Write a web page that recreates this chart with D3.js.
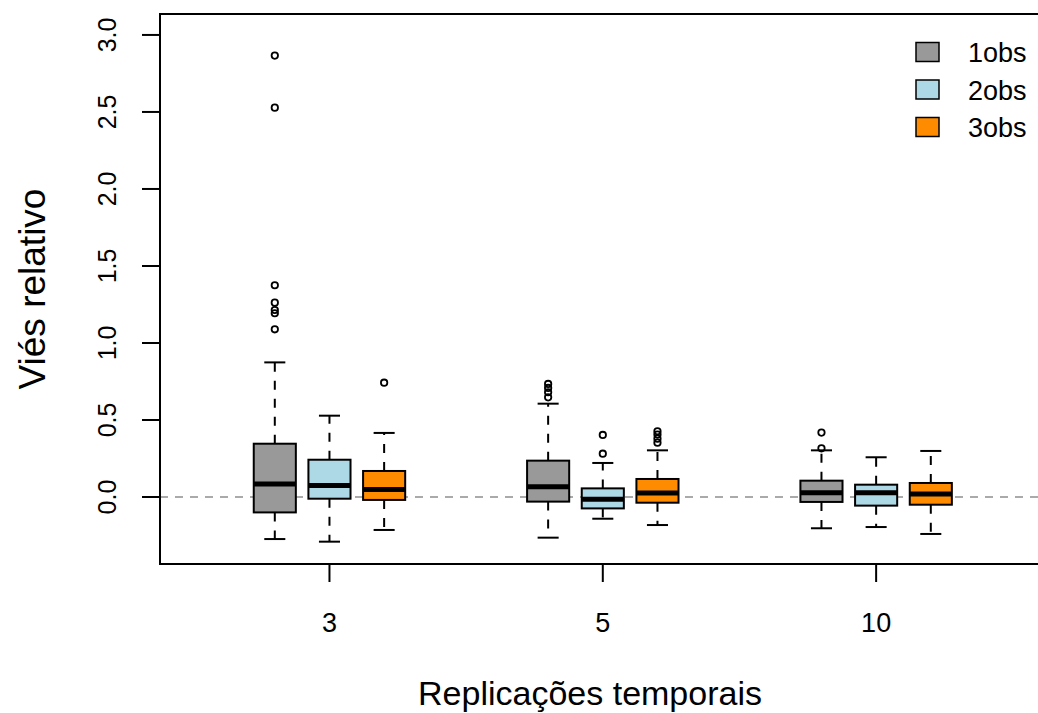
<!DOCTYPE html>
<html>
<head>
<meta charset="utf-8">
<script src="https://cdn.jsdelivr.net/npm/d3@7"></script>
<style>
body { margin: 0; background: #fff; }
text { font-family: "Liberation Sans", Arial, sans-serif; fill: #000; }
</style>
</head>
<body>
<script>
// groups on the x axis and the three series
var groups = ["3", "5", "10"];
var seriesNames = ["1obs", "2obs", "3obs"];
var yTicks = [0, 0.5, 1, 1.5, 2, 2.5, 3];

// box statistics, one row per series, one value per group
var whiskerLow  = [[-0.273, -0.264, -0.203], [-0.290, -0.141, -0.195], [-0.214, -0.182, -0.240]];
var q1          = [[-0.100, -0.030, -0.032], [-0.011, -0.074, -0.056], [-0.019, -0.037, -0.050]];
var medians     = [[ 0.084,  0.067,  0.028], [ 0.074, -0.015,  0.028], [ 0.048,  0.026,  0.019]];
var q3          = [[ 0.346,  0.236,  0.106], [ 0.242,  0.056,  0.080], [ 0.169,  0.117,  0.091]];
var whiskerHigh = [[ 0.874,  0.606,  0.303], [ 0.528,  0.221,  0.258], [ 0.416,  0.303,  0.299]];
var outliers = [
  [[2.866, 2.528, 1.375, 1.262, 1.214, 1.193, 1.089], [0.734, 0.708, 0.680, 0.647], [0.418, 0.316]],
  [[], [0.403, 0.281], []],
  [[0.742], [0.427, 0.405, 0.379, 0.353], []]
];

var fills = ["#999999", "#add8e6", "#ff8c00"];

var W = 1038, H = 713;
// plot region (note: "top" is reserved on window)
var pLeft = 160, pTop = 14, pBottom = 564, pRight = 1062;

var svg = d3.select("body").append("svg")
  .attr("width", W)
  .attr("height", H);

// x in "box slot" units, y in data units
var x = d3.scaleLinear().domain([-1.1, 15.4]).range([pLeft, pRight]);
var y = d3.scaleLinear().domain([-0.435, 3.136]).range([pBottom, pTop]);
var boxW = x(0.77) - x(0);

function slot(g, s) { return g * 5 + s + 1; }

// zero reference line
svg.append("line")
  .attr("x1", pLeft).attr("x2", pRight)
  .attr("y1", y(0)).attr("y2", y(0))
  .attr("stroke", "#aaaaaa")
  .attr("stroke-width", 2)
  .attr("stroke-dasharray", "8,7");

var boxes = [];
for (var s = 0; s < seriesNames.length; s++) {
  for (var g = 0; g < groups.length; g++) {
    boxes.push({s: s, g: g, cx: x(slot(g, s)),
      lo: whiskerLow[s][g], q1: q1[s][g], med: medians[s][g], q3: q3[s][g], hi: whiskerHigh[s][g],
      out: outliers[s][g]});
  }
}

var bx = svg.selectAll("g.box").data(boxes).enter().append("g").attr("class", "box");

// whiskers
bx.append("line")
  .attr("x1", function(d) { return d.cx; }).attr("x2", function(d) { return d.cx; })
  .attr("y1", function(d) { return y(d.q3); }).attr("y2", function(d) { return y(d.hi); })
  .attr("stroke", "#000").attr("stroke-width", 2).attr("stroke-dasharray", "9,9");
bx.append("line")
  .attr("x1", function(d) { return d.cx; }).attr("x2", function(d) { return d.cx; })
  .attr("y1", function(d) { return y(d.q1); }).attr("y2", function(d) { return y(d.lo); })
  .attr("stroke", "#000").attr("stroke-width", 2).attr("stroke-dasharray", "9,9");
// caps
["hi", "lo"].forEach(function(k) {
  bx.append("line")
    .attr("x1", function(d) { return d.cx - boxW / 4; }).attr("x2", function(d) { return d.cx + boxW / 4; })
    .attr("y1", function(d) { return y(d[k]); }).attr("y2", function(d) { return y(d[k]); })
    .attr("stroke", "#000").attr("stroke-width", 2);
});

bx.append("rect")
  .attr("x", function(d) { return d.cx - boxW / 2; })
  .attr("width", boxW)
  .attr("y", function(d) { return y(d.q3); })
  .attr("height", function(d) { return y(d.q1) - y(d.q3); })
  .attr("fill", function(d) { return fills[d.s]; })
  .attr("stroke", "#000").attr("stroke-width", 2);

bx.append("line")
  .attr("x1", function(d) { return d.cx - boxW / 2; }).attr("x2", function(d) { return d.cx + boxW / 2; })
  .attr("y1", function(d) { return y(d.med); }).attr("y2", function(d) { return y(d.med); })
  .attr("stroke", "#000").attr("stroke-width", 5);

bx.selectAll("circle").data(function(d) { return d.out.map(function(v) { return {cx: d.cx, v: v}; }); })
  .enter().append("circle")
  .attr("cx", function(d) { return d.cx; })
  .attr("cy", function(d) { return y(d.v); })
  .attr("r", 3.2)
  .attr("fill", "none").attr("stroke", "#000").attr("stroke-width", 1.8);

// frame
svg.append("rect")
  .attr("x", pLeft).attr("y", pTop)
  .attr("width", pRight - pLeft).attr("height", pBottom - pTop)
  .attr("fill", "none").attr("stroke", "#000").attr("stroke-width", 2);

// y axis
var yAxis = svg.append("g");
yAxis.append("line").attr("x1", pLeft).attr("x2", pLeft)
  .attr("y1", y(0)).attr("y2", y(3)).attr("stroke", "#000").attr("stroke-width", 2);
yAxis.selectAll("line.tick").data(yTicks).enter().append("line")
  .attr("class", "tick")
  .attr("x1", pLeft).attr("x2", pLeft - 18)
  .attr("y1", function(d) { return y(d); }).attr("y2", function(d) { return y(d); })
  .attr("stroke", "#000").attr("stroke-width", 2);
yAxis.selectAll("text").data(yTicks).enter().append("text")
  .attr("transform", function(d) { return "translate(116," + y(d) + ") rotate(-90)"; })
  .attr("text-anchor", "middle")
  .attr("font-size", 25)
  .text(function(d) { return d3.format(".1f")(d); });

// x axis
var xAxis = svg.append("g");
xAxis.selectAll("line").data(groups).enter().append("line")
  .attr("x1", function(d, i) { return x(slot(i, 1)); }).attr("x2", function(d, i) { return x(slot(i, 1)); })
  .attr("y1", pBottom).attr("y2", pBottom + 18)
  .attr("stroke", "#000").attr("stroke-width", 2);
xAxis.selectAll("text").data(groups).enter().append("text")
  .attr("x", function(d, i) { return x(slot(i, 1)); })
  .attr("y", 632)
  .attr("text-anchor", "middle")
  .attr("font-size", 27)
  .text(function(d) { return d; });

// axis titles
svg.append("text")
  .attr("x", 590).attr("y", 705)
  .attr("text-anchor", "middle")
  .attr("font-size", 34)
  .text("Replicações temporais");
svg.append("text")
  .attr("transform", "translate(45," + (pTop + pBottom) / 2 + ") rotate(-90)")
  .attr("text-anchor", "middle")
  .attr("font-size", 37)
  .text("Viés relativo");

// legend
var leg = svg.selectAll("g.leg").data(seriesNames).enter().append("g").attr("class", "leg")
  .attr("transform", function(d, i) { return "translate(916," + (52 + i * 37.5) + ")"; });
leg.append("rect")
  .attr("x", 0).attr("y", -9.5).attr("width", 23).attr("height", 19)
  .attr("fill", function(d, i) { return fills[i]; })
  .attr("stroke", "#000").attr("stroke-width", 1.5);
leg.append("text")
  .attr("x", 52).attr("y", 1)
  .attr("dominant-baseline", "central")
  .attr("font-size", 27)
  .text(function(d) { return d; });
</script>
</body>
</html>
